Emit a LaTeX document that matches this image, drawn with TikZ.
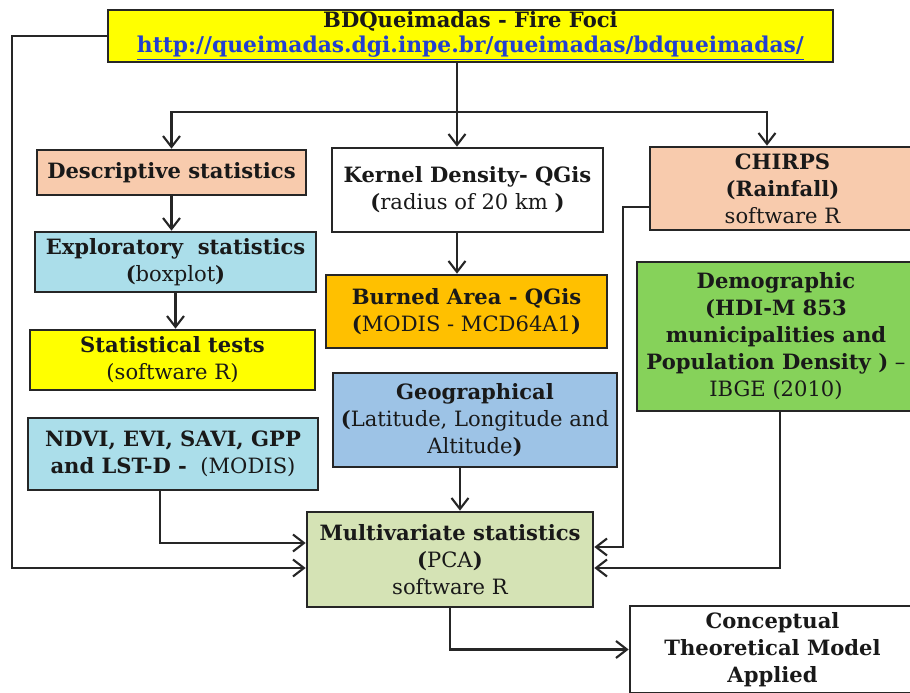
\documentclass[tikz,border=0pt]{standalone}
\usepackage{fontspec}
\setmainfont{DejaVu Serif}
\usetikzlibrary{arrows.meta}

\definecolor{fociyellow}{HTML}{FFFF00}
\definecolor{urlblue}{HTML}{2340D0}
\definecolor{peach}{HTML}{F8CBAD}
\definecolor{skyblue}{HTML}{ABDEEA}
\definecolor{burnorange}{HTML}{FFC000}
\definecolor{geoblue}{HTML}{9DC3E6}
\definecolor{demogreen}{HTML}{86D25A}
\definecolor{pcagreen}{HTML}{D5E3B5}

\tikzset{
    box/.style={draw=black!85, line width=1.5pt, align=center, inner sep=1pt,
                text=black!90, font=\fontsize{12}{15.4}\selectfont},
    link/.style={line width=1.2pt, draw=black!85,
                 -{Straight Barb[length=2.2mm, width=3.4mm]}}
}

\begin{document}
\begin{tikzpicture}
    \useasboundingbox (0, 0) rectangle (18.2, -13.86);

    \node[box, inner ysep=0pt, fill=fociyellow, minimum width=14.5cm, minimum height=1.04cm] (foci) at (9.41, -0.72)
        {\textbf{BDQueimadas - Fire Foci}\\[-1pt]
         {\fontsize{12.4}{14}\selectfont\textbf{\color{urlblue}\underline{http://queimadas.dgi.inpe.br/queimadas/bdqueimadas/}}}};

    \node[box, fill=peach, minimum width=5.38cm, minimum height=0.9cm] (desc) at (3.43, -3.45)
        {\textbf{Descriptive statistics}};
    \node[box, fill=white, minimum width=5.42cm, minimum height=1.68cm] (kernel) at (9.35, -3.8)
        {\textbf{Kernel Density- QGis}\\ \textbf{(}radius of 20 km \textbf{)}};
    \node[box, fill=peach, minimum width=5.3cm, minimum height=1.66cm] (chirps) at (15.65, -3.77)
        {\textbf{CHIRPS}\\ \textbf{(Rainfall)}\\ software R};

    \node[box, fill=skyblue, minimum width=5.62cm, minimum height=1.2cm] (explo) at (3.51, -5.24)
        {\textbf{Exploratory\ \ statistics}\\ \textbf{(}boxplot\textbf{)}};
    \node[box, fill=fociyellow, minimum width=5.7cm, minimum height=1.2cm] (stat) at (3.45, -7.2)
        {\textbf{Statistical tests}\\ (software R)};
    \node[box, fill=burnorange, minimum width=5.62cm, minimum height=1.46cm] (burned) at (9.33, -6.23)
        {\textbf{Burned Area - QGis}\\ \textbf{(}MODIS - MCD64A1\textbf{)}};
    \node[box, fill=geoblue, minimum width=5.68cm, minimum height=1.88cm] (geo) at (9.5, -8.4)
        {\textbf{Geographical}\\ \textbf{(}Latitude, Longitude and\\ Altitude\textbf{)}};
    \node[box, fill=demogreen, minimum width=5.56cm, minimum height=2.98cm] (demo) at (15.52, -6.73)
        {\textbf{Demographic}\\ \textbf{(HDI-M 853}\\ \textbf{municipalities and}\\
         \textbf{Population Density )} --\\ IBGE (2010)};
    \node[box, fill=skyblue, minimum width=5.8cm, minimum height=1.44cm] (ndvi) at (3.46, -9.08)
        {\textbf{NDVI, EVI, SAVI, GPP}\\ \textbf{and LST-D -}\ \ (MODIS)};

    \node[box, fill=pcagreen, minimum width=5.72cm, minimum height=1.9cm] (pca) at (9.0, -11.19)
        {\textbf{Multivariate statistics}\\ \textbf{(}PCA\textbf{)}\\ software R};
    \node[box, fill=white, minimum width=5.7cm, minimum height=1.74cm] (model) at (15.45, -12.99)
        {\textbf{Conceptual}\\ \textbf{Theoretical Model}\\ \textbf{Applied}};

    % branching from the fire foci database
    \coordinate (split) at (9.14, -2.24);
    \coordinate (railL) at (0.24, 0);
    \coordinate (railR) at (12.46, 0);
    \draw[line width=1.2pt, draw=black!85] (foci.south -| split) -- (split);
    \draw[link] (split) -| (desc.north);
    \draw[link] (split) -- (split |- kernel.north);
    \draw[link] (split) -| ([xshift=-0.31cm]chirps.north);
    \draw[link] (foci.west) -- (foci.west -| railL) |- ([yshift=-0.17cm]pca.west);

    % left column
    \draw[link] (desc.south) -- (desc.south |- explo.north);
    \draw[link] (explo.south) -- (explo.south |- stat.north);
    \draw[link] ([xshift=-0.26cm]ndvi.south) |- ([yshift=0.33cm]pca.west);

    % middle column
    \draw[link] ([xshift=-0.21cm]kernel.south) -- ([xshift=-0.21cm]kernel.south |- burned.north);
    \draw[link] ([xshift=-0.3cm]geo.south) -- ([xshift=-0.3cm]geo.south |- pca.north);
    \draw[link] (pca.south) |- (model.west);

    % right column
    \draw[link] ([yshift=-0.37cm]chirps.west) -- ([yshift=-0.37cm]chirps.west -| railR) |- ([yshift=0.25cm]pca.east);
    \draw[link] ([xshift=0.08cm]demo.south) |- ([yshift=-0.17cm]pca.east);
\end{tikzpicture}
\end{document}
